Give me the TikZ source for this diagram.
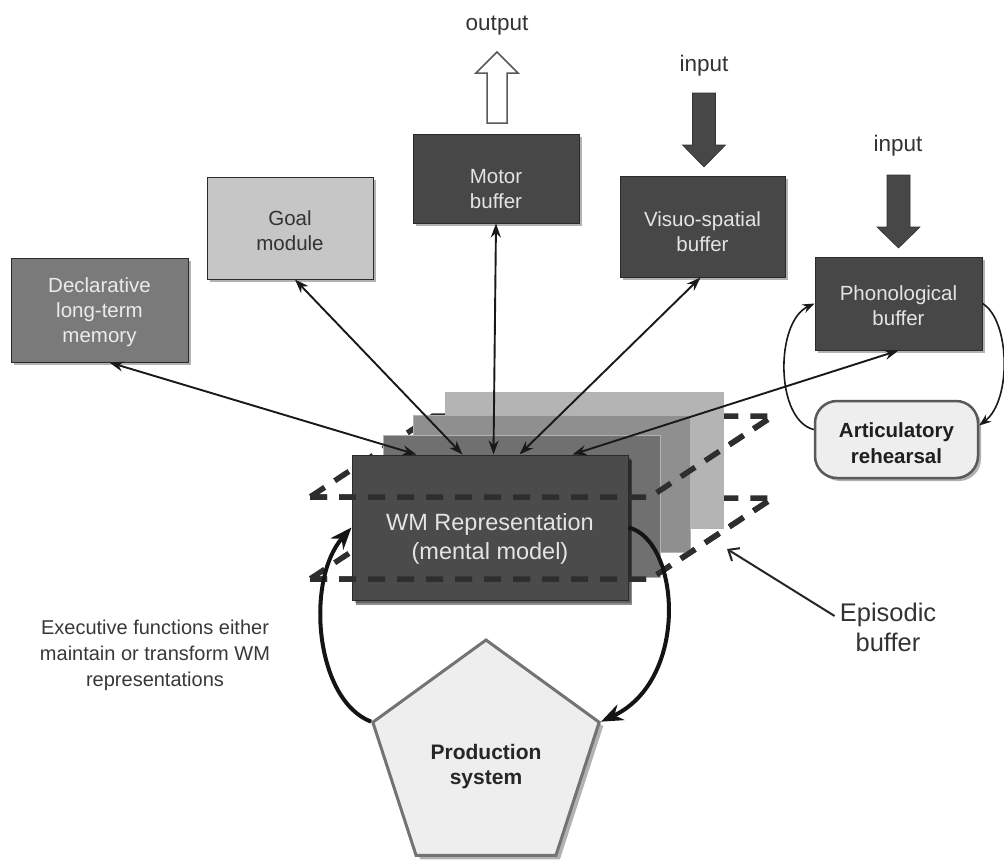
\documentclass[tikz,border=0pt]{standalone}
\usepackage{fontspec}
\setmainfont{Liberation Sans}
\usetikzlibrary{arrows.meta,shapes.geometric,shadows}
\definecolor{dbox}{HTML}{474747}
\definecolor{declc}{HTML}{7A7A7A}
\definecolor{goalc}{HTML}{C6C6C6}
\definecolor{wmc}{HTML}{4B4B4B}
\definecolor{lay1}{HTML}{707070}
\definecolor{lay2}{HTML}{8F8F8F}
\definecolor{lay3}{HTML}{B4B4B4}
\definecolor{lightc}{HTML}{EEEEEE}
\definecolor{boxtxt}{HTML}{E4E4E4}
\definecolor{txt}{HTML}{333333}
\definecolor{dashc}{HTML}{2E2E2E}
\definecolor{edgec}{HTML}{2A2A2A}
\tikzset{
  mbox/.style={draw=edgec, line width=1pt, inner sep=0pt,
    drop shadow={shadow xshift=3pt, shadow yshift=-3pt, fill=black, opacity=0.3}},
  btext/.style={align=center, text=boxtxt, font=\fontsize{20.5}{25}\selectfont, inner sep=0pt},
  dtext/.style={align=center, text=txt, font=\fontsize{20.5}{25}\selectfont, inner sep=0pt},
  dbl/.style={{Stealth[length=14pt,width=10pt]}-{Stealth[length=14pt,width=10pt]}, line width=1.9pt, draw=black!90},
  thinarr/.style={-{Stealth[length=12pt,width=9pt]}, line width=1.6pt, draw=black!90},
  bigarr/.style={-{Stealth[length=22pt,width=17pt]}, line width=4pt, draw=black!92},
  dashl/.style={draw=dashc, line width=5.5pt, dash pattern=on 17pt off 12pt, miter limit=10},
  layer/.style={draw=black!30, line width=0.6pt},
}
\begin{document}
\begin{tikzpicture}[x=1pt,y=-1pt]
\useasboundingbox (0,0) rectangle (1004,863);

% dashed parallelograms (back parts)
\draw[dashl] (310,497) -- (650,497) -- (773,416) -- (433,416) -- cycle;
\draw[dashl] (310,579) -- (650,579) -- (773,498) -- (433,498) -- cycle;

% stack of episodic layers
\fill[lay3, layer] (445,392) rectangle (723,528);
\fill[lay2, layer] (413,415) rectangle (690,552);
\fill[lay1, layer] (383,435) rectangle (660,577);

% WM box
\node[mbox, fill=wmc, minimum width=276pt, minimum height=145pt,
      drop shadow={shadow xshift=4pt, shadow yshift=-5pt, fill=black, opacity=0.45}] (wm) at (490,527.5) {};
\node[btext, font=\fontsize{23.5}{29}\selectfont] (wmt) at (490,539) {WM Representation\\(mental model)};

% dashed parallelograms (front parts)
\draw[dashl] (310,497) -- (650,497) -- (773,416);
\draw[dashl] (310,579) -- (650,579) -- (773,498);

% module boxes
\node[mbox, fill=declc, minimum width=177pt, minimum height=104pt] (decl) at (99.5,310) {};
\node[btext, text=white!92!black] (declt) at (99.5,312) {Declarative\\long-term\\memory};
\node[mbox, fill=goalc, minimum width=166pt, minimum height=102pt] (goal) at (290,228) {};
\node[dtext] (goalt) at (290,231) {Goal\\module};
\node[mbox, fill=dbox, minimum width=166pt, minimum height=89pt] (motor) at (496,178.5) {};
\node[btext] (motort) at (496,189) {Motor\\buffer};
\node[mbox, fill=dbox, minimum width=165pt, minimum height=101pt] (visuo) at (702.5,226.5) {};
\node[btext] (visuot) at (702.5,232) {Visuo-spatial\\buffer};
\node[mbox, fill=dbox, minimum width=167pt, minimum height=93pt] (phono) at (898.5,303.5) {};
\node[btext] (phonot) at (898.5,306) {Phonological\\buffer};
\node[mbox, draw=black!65, line width=2.5pt, fill=lightc, rounded corners=22pt,
      minimum width=163pt, minimum height=77pt] (artic) at (896.5,439.5) {};
\node[dtext, text=black!88, font=\bfseries\fontsize{20.5}{26}\selectfont] (artict) at (896.5,443) {Articulatory\\rehearsal};

% production system
\node[regular polygon, regular polygon sides=5, minimum size=238pt, inner sep=0pt,
      draw=black!55, line width=3pt, fill=lightc,
      drop shadow={shadow xshift=4pt, shadow yshift=-4pt, fill=black, opacity=0.3}] (ps) at (486,759) {};
\node[dtext, text=black!85, font=\bfseries\fontsize{21}{25}\selectfont] (pst) at (486,767) {Production\\system};

% output / input block arrows
\node[text=txt, font=\fontsize{22.5}{26}\selectfont, inner sep=0pt] (outl) at (497,26) {output};
\draw[draw=black!65, line width=1.5pt, fill=white, line join=miter]
  (487,123) -- (487,73) -- (476,73) -- (497,52) -- (518,73) -- (507,73) -- (507,123) -- cycle;
\node[text=txt, font=\fontsize{22.5}{26}\selectfont, inner sep=0pt] (in1) at (704,66) {input};
\fill[dbox, draw=black!80, line width=0.6pt]
  (692.5,93) -- (692.5,145) -- (682.5,145) -- (704,167) -- (725.5,145) -- (715.5,145) -- (715.5,93) -- cycle;
\node[text=txt, font=\fontsize{22.5}{26}\selectfont, inner sep=0pt] (in2) at (898,146) {input};
\fill[dbox, draw=black!80, line width=0.6pt]
  (887,175) -- (887,227) -- (877,227) -- (898.5,248) -- (920,227) -- (910,227) -- (910,175) -- cycle;

% connectors to WM
\draw[dbl] ([xshift=10pt]decl.south) -- ([xshift=65pt]wm.north west);
\draw[dbl] ([xshift=5pt]goal.south) -- ([xshift=111pt]wm.north west);
\draw[dbl] (motor.south) -- ([xshift=142pt]wm.north west);
\draw[dbl] ([xshift=-2pt]visuo.south) -- ([xshift=168pt]wm.north west);
\draw[dbl] (phono.south) -- ([xshift=221pt]wm.north west);

% phonological loop
\draw[thinarr] ([yshift=10pt]artic.west) .. controls (775,420) and (775,322) .. (phono.west);
\draw[thinarr] (phono.east) .. controls (1010,320) and (1012,400) .. ([yshift=14pt]artic.east);

% executive loop
\draw[bigarr] (ps.corner 2) .. controls (315,700) and (305,580) .. (wm.west);
\draw[bigarr] (wm.east) .. controls (680,540) and (690,680) .. (ps.corner 5);

% executive text
\node[dtext, text=black!78, font=\fontsize{20}{26}\selectfont] (exec) at (155,655)
  {Executive functions either\\maintain or transform WM\\representations};

% episodic buffer label
\node[dtext, text=black!80, font=\fontsize{25.5}{30}\selectfont] (epi) at (888,627) {Episodic\\buffer};
\coordinate (ebtip) at (727,549);
\draw[-{Straight Barb[length=9pt,width=15pt]}, line width=2pt, draw=black!85]
  ([xshift=-5pt,yshift=11pt]epi.west) -- (ebtip);
\end{tikzpicture}
\end{document}
